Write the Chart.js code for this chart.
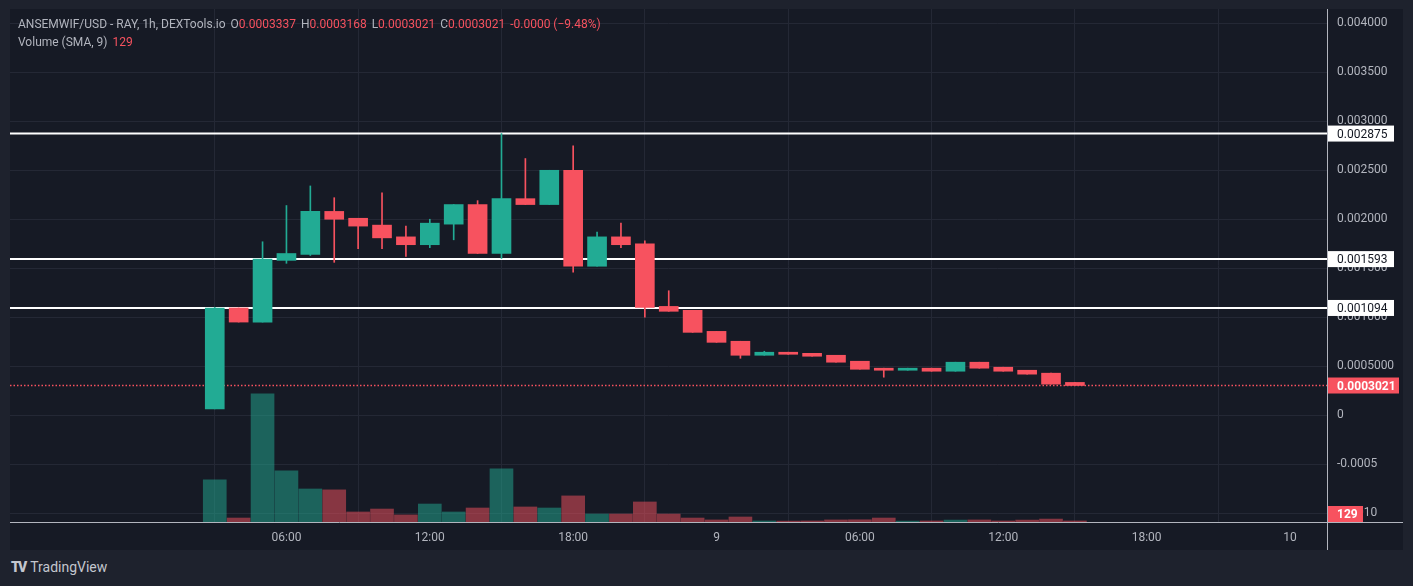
<!DOCTYPE html>
<html>
<head>
<meta charset="utf-8">
<script src="https://cdn.jsdelivr.net/npm/chart.js@4.4.1/dist/chart.umd.min.js"></script>
<style>
  html, body { margin: 0; padding: 0; width: 1413px; height: 586px; overflow: hidden; background: #1e222d; font-family: Roboto, "Noto Sans", sans-serif; }
  #panel { position: absolute; left: 10px; top: 9px; width: 1393px; height: 541px; background: #161a25; }
  #panel canvas { position: absolute; left: 0; top: 0; }
  #legend { position: absolute; left: 8px; top: 6px; font-size: 12px; line-height: 18px; color: #b2b5be; pointer-events: none; white-space: nowrap; }
  #legend .r { color: #f7525f; }
  #legend .gap { margin-left: 5px; }
  #logo { position: absolute; left: 11px; top: 559px; font-size: 14px; color: #c3c6ce; }
  #logo b { font-weight: 900; letter-spacing: -2px; margin-right: 5px; }
</style>
</head>
<body>
<div id="panel">
  <canvas id="myChart" width="1393" height="541"></canvas>
  <div id="legend">
    <div>ANSEMWIF/USD - RAY, 1h, DEXTools.io<span class="gap">O</span><span class="r">0.0003337</span><span class="gap">H</span><span class="r">0.0003168</span><span class="gap">L</span><span class="r">0.0003021</span><span class="gap">C</span><span class="r">0.0003021</span><span class="r gap">-0.0000 (−9.48%)</span></div>
    <div>Volume (SMA, 9)<span class="r gap">129</span></div>
  </div>
</div>
<div id="logo"><b>TV</b>TradingView</div>

<script>
// hours counted from 00:00 of day 8
const hours = [3, 4, 5, 6, 7, 8, 9, 10, 11, 12, 13, 14, 15, 16, 17, 18, 19, 20, 21,
  22, 23, 24, 25, 26, 27, 28, 29, 30, 31, 32, 33, 34, 35, 36, 37, 38, 39];

const open = [0.000064, 0.001094, 0.00095, 0.00158, 0.00164, 0.00208, 0.00201, 0.00194, 0.00182, 0.00174,
  0.00195, 0.00215, 0.00165, 0.00221, 0.00215, 0.0025, 0.00152, 0.00182, 0.00175, 0.00111,
  0.00107, 0.000855, 0.000754, 0.000611, 0.000642, 0.000631, 0.000611, 0.00055, 0.000479, 0.000458,
  0.000479, 0.000448, 0.00054, 0.000489, 0.000458, 0.000428, 0.0003337];
const high = [0.0011, 0.001094, 0.00177, 0.00214, 0.00234, 0.00222, 0.00201, 0.00227, 0.00193, 0.002,
  0.00215, 0.00219, 0.002875, 0.00262, 0.0025, 0.00275, 0.00187, 0.00196, 0.00178, 0.00127,
  0.00107, 0.000855, 0.000754, 0.000652, 0.000642, 0.000631, 0.000611, 0.00055, 0.000479, 0.000479,
  0.000479, 0.00054, 0.00054, 0.000489, 0.000458, 0.000428, 0.0003337];
const low = [0.000064, 0.00095, 0.00095, 0.00155, 0.00163, 0.00156, 0.0017, 0.0017, 0.00162, 0.00171,
  0.00179, 0.00165, 0.0016, 0.00215, 0.00215, 0.00146, 0.00152, 0.00171, 0.001, 0.00106,
  0.000845, 0.000743, 0.00058, 0.000611, 0.000621, 0.000601, 0.00054, 0.000468, 0.000387, 0.000458,
  0.000448, 0.000448, 0.000479, 0.000448, 0.000418, 0.000316, 0.0003021];
const close = [0.001094, 0.00095, 0.001593, 0.00165, 0.00208, 0.002, 0.00193, 0.00181, 0.00174, 0.00196,
  0.00215, 0.00165, 0.00221, 0.00215, 0.0025, 0.00152, 0.00182, 0.00174, 0.0011, 0.00106,
  0.000845, 0.000743, 0.000611, 0.000642, 0.000621, 0.000601, 0.00054, 0.000468, 0.000458, 0.000479,
  0.000448, 0.00054, 0.000479, 0.000448, 0.000418, 0.000316, 0.0003021];
const volume = [2860, 270, 8700, 3470, 2240, 2180, 680, 880, 480, 1220,
  680, 950, 3600, 1020, 950, 1770, 540, 540, 1360, 540,
  270, 140, 340, 70, 60, 70, 140, 150, 270, 60,
  70, 130, 140, 70, 130, 200, 70];

const levels = [0.002875, 0.001593, 0.001094];
const lastPrice = 0.0003021;
const volumeSma = 129;

const priceTicks = [0.004, 0.0035, 0.003, 0.0025, 0.002, 0.0015, 0.001, 0.0005, 0, -0.0005, -0.001];
const priceTickLabels = ['0.004000', '0.003500', '0.003000', '0.002500', '0.002000', '0.001500',
  '0.001000', '0.0005000', '0', '-0.0005', '-0.0010'];
const timeTicks = [6, 12, 18, 24, 30, 36, 42, 48];
const timeTickLabels = ['06:00', '12:00', '18:00', '9', '06:00', '12:00', '18:00', '10'];

const UP = '#22ab94', DOWN = '#f7525f';
const UP_VOL = 'rgba(34,171,148,0.5)', DOWN_VOL = 'rgba(247,82,95,0.5)';
const X_MIN = -5.57, X_MAX = 49.55;

const isUp = hours.map((h, i) => close[i] >= open[i]);

const datasets = [];

datasets.push({
  label: 'Bodies',
  data: hours.map((h, i) => ({ x: h, y: [open[i], close[i]] })),
  backgroundColor: isUp.map(u => u ? UP : DOWN),
  barThickness: 19,
  minBarLength: 2,
  grouped: false,
  yAxisID: 'y',
  order: 1
});
datasets.push({
  label: 'Wicks',
  data: hours.map((h, i) => ({ x: h, y: [low[i], high[i]] })),
  backgroundColor: isUp.map(u => u ? UP : DOWN),
  barThickness: 1,
  grouped: false,
  yAxisID: 'y',
  order: 2
});
datasets.push({
  label: 'Volume',
  data: hours.map((h, i) => ({ x: h, y: volume[i] })),
  backgroundColor: isUp.map(u => u ? UP_VOL : DOWN_VOL),
  barThickness: 23,
  grouped: false,
  yAxisID: 'yv',
  order: 5
});

levels.forEach(v => {
  datasets.push({
    type: 'line',
    label: 'level ' + v,
    data: [{ x: X_MIN, y: v }, { x: X_MAX, y: v }],
    borderColor: '#ffffff',
    borderWidth: 2,
    pointRadius: 0,
    yAxisID: 'y',
    order: 3
  });
});
datasets.push({
  type: 'line',
  label: 'last',
  data: [{ x: X_MIN, y: lastPrice }, { x: X_MAX, y: lastPrice }],
  borderColor: DOWN,
  borderWidth: 1.6,
  borderDash: [1.5, 2],
  pointRadius: 0,
  yAxisID: 'y',
  order: 4
});

const badges = {
  id: 'badges',
  afterDraw(chart) {
    const { ctx, chartArea, scales } = chart;
    const x0 = chartArea.right;
    ctx.save();
    // axis lines running into the corner
    ctx.strokeStyle = '#b2b5be';
    ctx.lineWidth = 1;
    ctx.beginPath();
    ctx.moveTo(Math.round(x0) + 0.5, chartArea.bottom);
    ctx.lineTo(Math.round(x0) + 0.5, chart.height);
    ctx.moveTo(x0, Math.round(chartArea.bottom) + 0.5);
    ctx.lineTo(chart.width, Math.round(chartArea.bottom) + 0.5);
    ctx.stroke();

    ctx.font = '12px Roboto, "Noto Sans", sans-serif';
    ctx.textBaseline = 'middle';
    levels.forEach(v => {
      const py = scales.y.getPixelForValue(v);
      ctx.fillStyle = '#ffffff';
      ctx.fillRect(x0 + 1, py - 8, 66, 16);
      ctx.fillStyle = '#131722';
      ctx.fillText(v.toFixed(6), x0 + 10, py + 1);
    });

    ctx.font = 'bold 12px Roboto, "Noto Sans", sans-serif';
    let py = scales.y.getPixelForValue(lastPrice);
    ctx.fillStyle = DOWN;
    ctx.fillRect(x0 + 1, py - 8, 71, 16);
    ctx.fillStyle = '#ffffff';
    ctx.fillText(lastPrice.toFixed(7), x0 + 10, py + 1);

    py = Math.min(scales.yv.getPixelForValue(volumeSma), chartArea.bottom - 8);
    ctx.fillStyle = DOWN;
    ctx.fillRect(x0 + 1, py - 8, 35, 16);
    ctx.fillStyle = '#ffffff';
    ctx.fillText(String(volumeSma), x0 + 10, py + 1);
    ctx.restore();
  }
};

const gridColor = '#242835';

const myChart = new Chart(document.getElementById('myChart').getContext('2d'), {
  type: 'bar',
  data: { datasets },
  options: {
    responsive: false,
    devicePixelRatio: 1,
    animation: false,
    layout: { padding: 0 },
    plugins: { legend: { display: false }, tooltip: { enabled: false } },
    scales: {
      x: {
        type: 'linear',
        position: 'bottom',
        min: X_MIN,
        max: X_MAX,
        offset: false,
        afterBuildTicks: scale => { scale.ticks = timeTicks.map(v => ({ value: v })); },
        afterFit: scale => { scale.height = 28; scale.paddingLeft = 0; scale.paddingRight = 0; },
        grid: { color: gridColor, drawTicks: false },
        border: { display: true, color: '#b2b5be' },
        ticks: {
          color: '#b2b5be',
          font: { family: 'Roboto', size: 12 },
          padding: 9,
          maxRotation: 0,
          autoSkip: false,
          callback: v => timeTickLabels[timeTicks.indexOf(v)]
        }
      },
      y: {
        type: 'linear',
        position: 'right',
        min: -0.0010917,
        max: 0.004147,
        afterBuildTicks: scale => { scale.ticks = priceTicks.map(v => ({ value: v })); },
        afterFit: scale => { scale.width = 76; scale.paddingTop = 0; scale.paddingBottom = 0; },
        grid: { color: gridColor, drawTicks: false },
        border: { display: true, color: '#b2b5be' },
        ticks: {
          color: '#b2b5be',
          font: { family: 'Roboto', size: 12 },
          padding: 10,
          autoSkip: false,
          callback: v => priceTickLabels[priceTicks.indexOf(v)]
        }
      },
      yv: {
        type: 'linear',
        display: false,
        min: 0,
        max: 34800
      }
    }
  },
  plugins: [badges]
});
</script>
</body>
</html>
